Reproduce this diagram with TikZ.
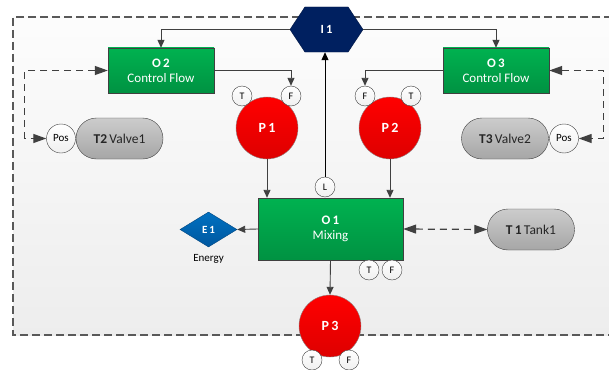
\documentclass[tikz,border=0pt]{standalone}
\usepackage{fontspec}
\setmainfont{Carlito}
\usetikzlibrary{arrows.meta,shapes.geometric,shapes.symbols,positioning}
\definecolor{boxgreen}{RGB}{0,178,80}
\definecolor{boxgreendark}{RGB}{0,146,66}
\definecolor{pumpred}{RGB}{255,0,0}
\definecolor{pumpreddark}{RGB}{222,0,0}
\definecolor{navy}{RGB}{0,32,96}
\definecolor{energyblue}{RGB}{0,112,192}
\definecolor{energybluedark}{RGB}{0,88,160}
\definecolor{tankgray}{RGB}{204,204,204}
\definecolor{tankgraydark}{RGB}{166,166,166}
\definecolor{edgegray}{RGB}{64,64,64}
\definecolor{framegray}{RGB}{89,89,89}

\tikzset{
  opbox/.style={draw=edgegray, top color=boxgreen, bottom color=boxgreendark,
    minimum width=106pt, minimum height=45pt, inner sep=0pt, text=white,
    align=center, font=\fontsize{13}{15}\selectfont},
  pump/.style={circle, draw=edgegray!60, top color=pumpred, bottom color=pumpreddark,
    minimum size=62pt, inner sep=0pt, text=white, font=\fontsize{14}{16}\selectfont\bfseries},
  port/.style={circle, draw=edgegray, top color=white, bottom color=black!6,
    minimum size=20pt, inner sep=0pt, font=\fontsize{10}{12}\selectfont},
  posport/.style={port, minimum size=29pt, font=\fontsize{11}{13}\selectfont},
  tank/.style={draw=edgegray, rounded corners=20.5pt, top color=tankgray,
    bottom color=tankgraydark, minimum width=87pt, minimum height=41pt,
    inner sep=0pt, text=black!85, font=\fontsize{13.5}{15}\selectfont},
  hexnode/.style={signal, signal to=east and west, signal pointer angle=113,
    fill=navy, draw=navy!70!black, minimum width=73pt, minimum height=45pt,
    inner sep=0pt, text=white, font=\fontsize{12.5}{14}\selectfont\bfseries},
  energy/.style={diamond, aspect=1.63, top color=energyblue, bottom color=energybluedark,
    draw=energybluedark!80!black, minimum width=57pt, minimum height=35pt,
    inner sep=0pt, text=white, font=\fontsize{11}{13}\selectfont\bfseries},
  flow/.style={draw=edgegray, line width=0.9pt, -{Triangle[length=8pt,width=7pt]}},
  ctrl/.style={draw=edgegray, line width=1.2pt, dash pattern=on 7pt off 5pt,
    {Triangle[length=13pt,width=9pt]}-{Triangle[length=13pt,width=9pt]}},
}

\begin{document}
\begin{tikzpicture}[x=1pt,y=-1pt]
\useasboundingbox (0,0) rectangle (609,369);

% Frame
\shade[top color=black!1, bottom color=black!7] (13,17) rectangle (609,335);
\draw[framegray, line width=1.2pt, dash pattern=on 8pt off 4pt]
  (612,17) -- (13,17) -- (13,335) -- (612,335);

% Input
\node[hexnode] (I1) at (326.5,29.5) {I\,1};

% Operations
\node[opbox] (O2) at (161,70.5) {\textbf{O\,2}\\Control Flow};
\node[opbox] (O3) at (496,70.5) {\textbf{O\,3}\\Control Flow};
\node[opbox, minimum width=145pt, minimum height=62pt] (O1) at (330.5,229) {\textbf{O\,1}\\Mixing};

% Pumps
\node[pump] (P1) at (267,128) {P\,1};
\node[pump] (P2) at (390,128) {P\,2};
\node[pump] (P3) at (330,326) {P\,3};

% Ports
\node[port] (P1T) at (242,96) {T};
\node[port] (P1F) at (291,96) {F};
\node[port] (P2F) at (365,96) {F};
\node[port] (P2T) at (411,96) {T};
\node[port] (P3T) at (312,360) {T};
\node[port] (P3F) at (349,360) {F};
\node[port] (O1L) at (325,187) {L};
\node[port] (O1T) at (369,270) {T};
\node[port] (O1F) at (392,270) {F};

% Tanks and valves
\node[tank] (T2) at (119.5,138.5) {\textbf{T2}\,Valve1};
\node[posport] (T2P) at (61,138.5) {Pos};
\node[tank] (T3) at (505,138.5) {\textbf{T3}\,Valve2};
\node[posport] (T3P) at (564,138.5) {Pos};
\node[tank] (T1) at (531,229.5) {\textbf{T\,1}\,Tank1};

% Energy
\node[energy] (E1) at (208.5,229.5) {E\,1};
\node[font=\fontsize{11}{13}\selectfont, below=4pt of E1] (E1lab) {Energy};

% Connectors
\draw[flow] (I1.west) -| (O2.north);
\draw[flow] (I1.east) -| (O3.north);
\draw[flow] (O2.east) -| (P1F.north);
\draw[flow] (O3.west) -| (P2F.north);
\draw[flow] (P1.south) -- (P1.south |- O1.north);
\draw[flow] (P2.south) -- (P2.south |- O1.north);
\draw[flow, draw=black] (O1L.north) -- (O1L.north |- I1.south);
\draw[flow] (O1.west) -- (E1.east);
\draw[flow] (O1.south) -- (P3.north);
\draw[ctrl] (O2.west) -- ++(-83,0) |- (T2P.west);
\draw[ctrl] (O3.east) -- ++(54,0) |- (T3P.east);
\draw[ctrl] (O1.east) -- (T1.west);
\end{tikzpicture}
\end{document}
